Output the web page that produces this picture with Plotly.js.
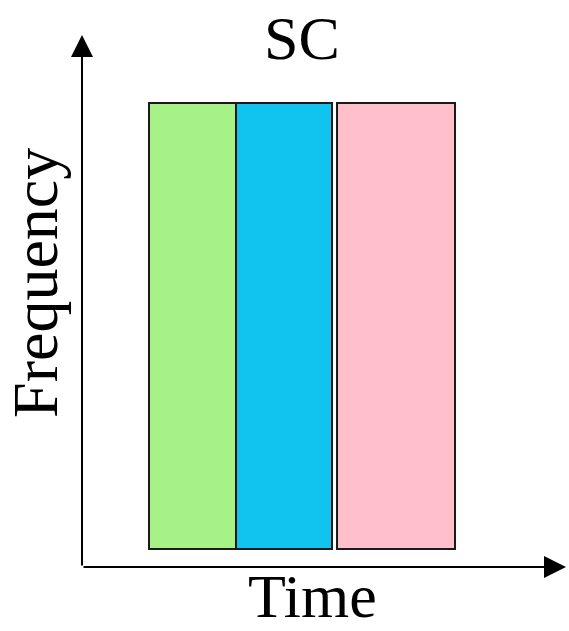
<!DOCTYPE html>
<html>
<head>
<meta charset="utf-8">
<script src="https://cdn.plot.ly/plotly-3.0.1.min.js"></script>
<style>html,body{margin:0;padding:0;background:#fff;}#chart{width:569px;height:631px;}</style>
</head>
<body>
<div id="chart"></div>
<script>
// Data (arbitrary time / frequency units)
const categories = ['Block 1', 'Block 2', 'Block 3'];
const timeStart = [1.384, 3.182, 5.269];
const timeEnd   = [3.182, 5.165, 7.707];
const freqLow   = [0.338, 0.338, 0.338];
const freqHigh  = [8.72, 8.72, 8.72];
const colors    = ['#a6f286', '#10c4ef', '#ffc0cb'];

const traces = categories.map((c, i) => ({
  type: 'bar',
  name: c,
  x: [(timeStart[i] + timeEnd[i]) / 2],
  width: [timeEnd[i] - timeStart[i]],
  base: [freqLow[i]],
  y: [freqHigh[i] - freqLow[i]],
  marker: {color: colors[i], line: {color: '#1a1a1a', width: 2}},
  hoverinfo: 'skip'
}));

const serif = 'Liberation Serif, Times New Roman, serif';

const layout = {
  width: 569, height: 631,
  margin: {l: 82, r: 3, t: 35, b: 64},
  paper_bgcolor: '#ffffff', plot_bgcolor: '#ffffff',
  showlegend: false,
  barmode: 'overlay',
  xaxis: {range: [0, 10], showgrid: false, zeroline: false, showticklabels: false, ticks: '', showline: false, fixedrange: true},
  yaxis: {range: [0, 10], showgrid: false, zeroline: false, showticklabels: false, ticks: '', showline: false, fixedrange: true},
  annotations: [
    {x: 10, y: 0, ax: 0, ay: 0, xref: 'x', yref: 'y', axref: 'x', ayref: 'y', text: '', showarrow: true,
     arrowhead: 2, arrowsize: 2.2, arrowwidth: 2, arrowcolor: '#000', standoff: 0, startstandoff: 0},
    {x: 0, y: 10, ax: 0, ay: 0, xref: 'x', yref: 'y', axref: 'x', ayref: 'y', text: '', showarrow: true,
     arrowhead: 2, arrowsize: 2.2, arrowwidth: 2, arrowcolor: '#000', standoff: 0, startstandoff: 0},
    {x: 0.455, y: 0.995, xref: 'paper', yref: 'paper', text: 'SC', showarrow: false,
     xanchor: 'center', yanchor: 'middle', font: {family: serif, size: 62, color: '#000'}},
    {x: 0.477, y: -0.0545, xref: 'paper', yref: 'paper', text: 'Time', showarrow: false,
     xanchor: 'center', yanchor: 'middle', font: {family: serif, size: 62, color: '#000'}},
    {x: -0.095, y: 0.534, xref: 'paper', yref: 'paper', text: 'Frequency', showarrow: false, textangle: -90,
     xanchor: 'center', yanchor: 'middle', font: {family: serif, size: 64, color: '#000'}}
  ]
};

Plotly.newPlot('chart', traces, layout, {displayModeBar: false, staticPlot: true});
</script>
</body>
</html>
